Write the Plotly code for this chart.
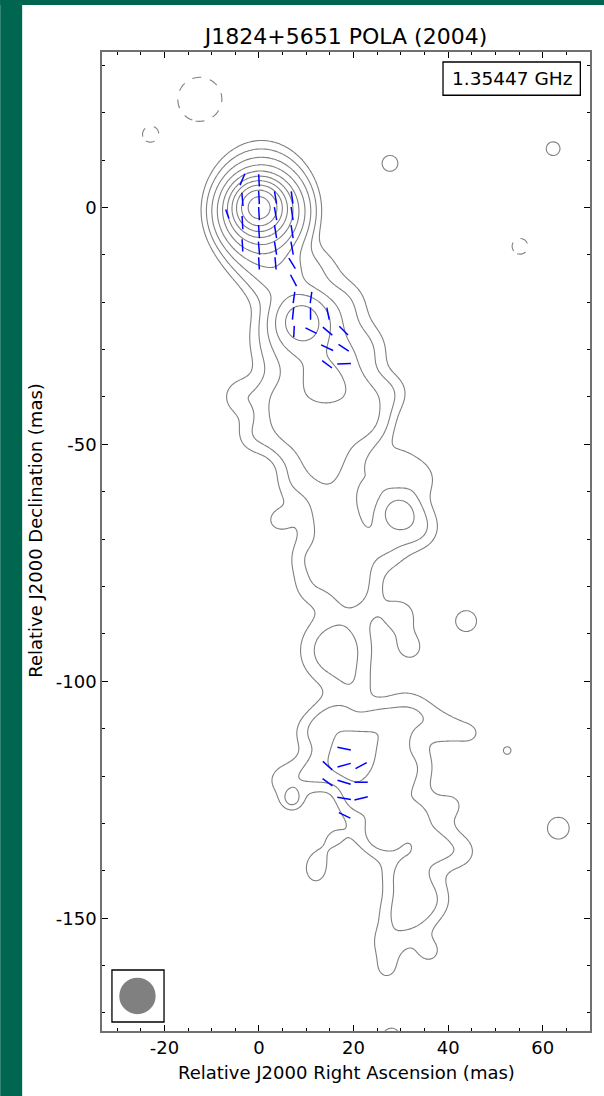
import numpy as np
import plotly.graph_objects as go

# ---------------- data ----------------
title_text = "J1824+5651 POLA (2004)"
freq_label = "1.35447 GHz"
x_ticks = [-20, 0, 20, 40, 60]
x_ticklabels = ["-20", "0", "20", "40", "60"]
y_ticks = [0, -50, -100, -150]
y_ticklabels = ["0", "-50", "-100", "-150"]

# Gaussian model components of the total-intensity map
# (position in mas, amplitude in units of the lowest contour, sigma_x / sigma_y in mas)
core_x = [0, 0.5, 0.5, 0, 4.5, 13]
core_y = [0, -1, 0, -9, -14, -13]
core_amp = [700, 100, 13, 3.5, 4.5, 1.1]
core_sx = [2.3, 3.8, 5.2, 3.8, 4.2, 3.5]
core_sy = [2.3, 3.8, 6.2, 3.8, 4.2, 3.5]

upper_x = [9, 10, 14, 4, 6, 22, 23, 6, 12, 19, 14, -4, -1, 18, 22, 28, 30, 25]
upper_y = [-24, -28, -38, -40, -44, -40, -45, -49, -51, -49, -54, -40, -48, -20, -30, -39, -53, -57]
upper_amp = [20, 7, 8.6, 2.2, 3.5, 3.0, 3.0, 1.9, 3.3, 2.6, 1.3, 1.5, 1.5, 1.3, 1.7, 1.2, 0.9, 1.3]
upper_sx = [3.2, 6, 4.5, 3.5, 3.5, 3.8, 3.3, 3.5, 4, 3.8, 3.5, 3, 3, 3.6, 3.8, 3, 3.2, 3]
upper_sy = upper_sx

mid_x = [15, 16, 18, 20, 7, 4, 10, 11, 27, 34, 34, 29.5, 30, 30, 32, 16.2, 20]
mid_y = [-58, -66, -74, -81, -58, -66, -74, -80, -72, -68, -57, -64.5, -65, -86, -93, -93.5, -101]
mid_amp = [2.3, 2.3, 2.3, 2.0, 1.1, 1.1, 1.2, 1.2, 1.3, 1.3, 1.2, 4.0, 2.0, 1.3, 1.2, 3.0, 1.0]
mid_sx = [4.5, 4.5, 4.5, 4, 3, 2.8, 3, 3.2, 3.5, 3, 3, 2.4, 4.5, 3.2, 2.8, 5, 3]
mid_sy = mid_sx

lower_x = [20, 16, 25, 14, 21, 26, 11, 10, 31, 35, 40, 45, 33, 33, 37, 31, 31, 36, 27,
           41, 43, 36, 27, 20, 16, 7, 5, 28, 29]
lower_y = [-116, -109, -110, -118, -124, -132, -111, -120, -106, -108, -110, -111, -118, -128, -135,
           -141, -149, -146, -155, -126, -136, -157, -161, -147, -133, -125, -121, -121, -113]
lower_amp = [7, 2.8, 2.8, 2.0, 2.8, 3.0, 1.3, 1.2, 1.4, 1.0, 1.1, 0.9, 1.5, 2.0, 2.2, 2.2, 2.4, 1.8, 1.2,
             1.0, 1.1, 1.15, 1.0, 0.9, 1.0, 2.0, 1.2, 2.2, 1.2]
lower_sx = [3.2, 3.5, 3.5, 3, 3.2, 3.4, 3, 3, 3.5, 3, 3, 2.5, 3.5, 3.5, 3.5, 3.5, 3.5, 3.5, 3,
            3, 3, 2.8, 2.8, 2.8, 3, 1.6, 3.2, 3.2, 3.2]
lower_sy = lower_sx

island_x = [12, 27.7, 62.2, 43.8, 52.5, 63.3, 28, -12.5, -23, 55.2]
island_y = [-139.5, 9.3, 12.4, -87.3, -114.6, -131, -175, 22.8, 15.4, -8.2]
island_amp = [1.35, 1.25, 1.22, 1.31, 1.15, 1.34, 1.4, -1.8, -1.25, -1.3]
island_sx = [2.5, 2.5, 2.3, 3, 1.5, 3, 2.2, 4.3, 2.4, 2.3]
island_sy = [3.3, 2.5, 2.3, 3, 1.5, 3, 2.2, 4.3, 2.4, 2.3]

# contour levels (multiples of the lowest contour)
pos_levels = [1, 2, 4, 8, 16, 32, 64, 128, 256, 512, 1024]
neg_levels = [-1]

# polarization vectors: position (mas), tilt (deg from vertical), length (mas)
pol_x = [-3.5, -3.5, -3.5, -3.5,
         0, 0, 0, 0, 0, 0,
         3.5, 3.5, 3.5, 3.5, 3.5,
         7, 7, 7, 7, 7, -6.7,
         7.3, 7.4, 7.2, 7.4, 11, 10.9, 14.6, 11, 14.5, 17.9, 14.4, 17.9, 14.4, 18,
         18, 14.5, 18, 21.6, 14.5, 18, 21.6, 18, 21.6, 18.1]
pol_y = [5.9, 1.7, -3.2, -8.0,
         5.7, 2.1, -1.3, -5.1, -8.6, -11.8,
         2.1, -1.3, -5.1, -8.6, -11.8,
         2.1, -1.3, -5.1, -8.6, -11.8, -1.4,
         -15.4, -19, -22.4, -26.2, -19, -22.4, -22.4, -26, -26.1, -26, -29.6, -29.6, -33.1, -33,
         -114.2, -117.8, -117.7, -117.8, -121.3, -121.3, -121.3, -124.7, -124.7, -128.3]
pol_ang = [23, -5, -3, -3,
           -3, -3, -3, -4, -5, -3,
           -10, -10, -9, -9, -5,
           -8, -8, -9, -10, -32, -20,
           -28, 8, 6, 3, 8, 0, -11, -64, -50, -45, -65, -57, -53, 88,
           -79, -48, 75, 62, -54, -73, 90, -81, 76, -64]
pol_len = [2.6, 2.8, 2.8, 2.6,
           2.6, 2.8, 2.8, 2.8, 2.8, 2.6,
           2.6, 2.8, 2.8, 2.8, 2.6,
           2.6, 2.8, 2.8, 2.8, 2.6, 2.0,
           2.7, 2.4, 2.6, 2.4, 2.4, 2.6, 2.6, 2.6, 2.6, 2.6, 2.8, 2.6, 2.6, 2.9,
           2.9, 2.7, 2.9, 2.7, 2.6, 2.9, 2.8, 2.9, 2.9, 2.7]

beam_center = (-25.7, -166.4)
beam_major = 7.7
beam_minor = 7.7

x_range = [-33.2, 70.0]
y_range = [-173.8, 32.8]

# ---------------- model image ----------------
comp_x = core_x + upper_x + mid_x + lower_x + island_x
comp_y = core_y + upper_y + mid_y + lower_y + island_y
comp_amp = core_amp + upper_amp + mid_amp + lower_amp + island_amp
comp_sx = core_sx + upper_sx + mid_sx + lower_sx + island_sx
comp_sy = core_sy + upper_sy + mid_sy + lower_sy + island_sy

xs = np.arange(-34.0, 71.01, 0.35)
ys = np.arange(-176.0, 34.01, 0.35)
XX, YY = np.meshgrid(xs, ys)
F = np.zeros_like(XX)
for cx, cy, a, sx, sy in zip(comp_x, comp_y, comp_amp, comp_sx, comp_sy):
    F += a * np.exp(-((XX - cx) ** 2 / (2 * sx * sx) + (YY - cy) ** 2 / (2 * sy * sy)))

Zpos = np.round(np.log2(np.clip(F, 2.0 ** -6, None)), 3)
Zneg = np.round(F, 3)

fig = go.Figure()
fig.add_trace(go.Contour(
    x=xs, y=ys, z=Zpos, showscale=False, hoverinfo="skip",
    autocontour=False,
    contours=dict(start=np.log2(pos_levels[0]), end=np.log2(pos_levels[-1]), size=1, coloring="none"),
    line=dict(color="#808080", width=1.1, smoothing=1.0),
))
fig.add_trace(go.Contour(
    x=xs, y=ys, z=Zneg, showscale=False, hoverinfo="skip",
    autocontour=False,
    contours=dict(start=neg_levels[0], end=neg_levels[0], size=1, coloring="none"),
    line=dict(color="#808080", width=1.1, dash="dash", smoothing=1.0),
))

# polarization vectors
vx, vy = [], []
for x0, y0, a, L in zip(pol_x, pol_y, pol_ang, pol_len):
    t = np.deg2rad(a)
    dx, dy = 0.5 * L * np.sin(t), 0.5 * L * np.cos(t)
    vx += [x0 - dx, x0 + dx, None]
    vy += [y0 - dy, y0 + dy, None]
fig.add_trace(go.Scatter(x=vx, y=vy, mode="lines", line=dict(color="#0000ff", width=1.5),
                         hoverinfo="skip", showlegend=False))

# beam
fig.add_shape(type="circle", xref="x", yref="y",
              x0=beam_center[0] - beam_minor / 2, x1=beam_center[0] + beam_minor / 2,
              y0=beam_center[1] - beam_major / 2, y1=beam_center[1] + beam_major / 2,
              fillcolor="#808080", line=dict(width=0))
fig.add_shape(type="rect", xref="paper", yref="paper", x0=0.0204, x1=0.1271, y0=0.0092, y1=0.0623,
              line=dict(color="black", width=1.3), fillcolor="rgba(0,0,0,0)")

# frequency box
fig.add_shape(type="rect", xref="paper", yref="paper", x0=0.6988, x1=0.9802, y0=0.9558, y1=0.9898,
              line=dict(color="black", width=1.3), fillcolor="white")
fig.add_annotation(xref="paper", yref="paper", x=0.8395, y=0.9728, text=freq_label, showarrow=False,
                   font=dict(family="DejaVu Sans", size=18.5, color="black"), xanchor="center", yanchor="middle")

# green page decoration
fig.add_shape(type="rect", xref="paper", yref="paper", x0=-0.2086, x1=-0.1636, y0=-0.07, y1=1.06,
              fillcolor="#00664f", line=dict(width=0), layer="above")
fig.add_shape(type="rect", xref="paper", yref="paper", x0=-0.2086, x1=1.03, y0=1.048, y1=1.06,
              fillcolor="#00664f", line=dict(width=0), layer="above")

# axis titles
fig.add_annotation(xref="paper", yref="paper", x=0.5, y=-0.0429, text="Relative J2000 Right Ascension (mas)",
                   showarrow=False, font=dict(family="DejaVu Sans", size=18, color="black"),
                   xanchor="center", yanchor="middle")
fig.add_annotation(xref="paper", yref="paper", x=-0.136, y=0.5116, text="Relative J2000 Declination (mas)",
                   showarrow=False, textangle=-90, font=dict(family="DejaVu Sans", size=18, color="black"),
                   xanchor="center", yanchor="middle")

axis_common = dict(showgrid=False, zeroline=False, showline=True, linecolor="#707070", linewidth=1.5,
                   mirror="ticks", ticks="inside", ticklen=6, tickwidth=1.2, tickcolor="black",
                   tickfont=dict(family="DejaVu Sans", size=18, color="black"))
fig.update_xaxes(range=x_range, tickmode="array", tickvals=x_ticks, ticktext=x_ticklabels,
                 minor=dict(dtick=5, tick0=0, ticks="inside", ticklen=3, tickcolor="black", tickwidth=1),
                 **axis_common)
fig.update_yaxes(range=y_range, tickmode="array", tickvals=y_ticks, ticktext=y_ticklabels,
                 minor=dict(dtick=10, tick0=0, ticks="inside", ticklen=3, tickcolor="black", tickwidth=1),
                 **axis_common)

fig.update_layout(
    width=604, height=1096,
    margin=dict(l=102, r=12, t=52, b=65),
    paper_bgcolor="white", plot_bgcolor="white",
    showlegend=False,
    title=dict(text=title_text, x=0.5, xref="paper", y=1 - 36 / 1096, yref="container",
               xanchor="center", yanchor="middle",
               font=dict(family="DejaVu Sans", size=22, color="black")),
)

fig.write_html("out.html", config={"displayModeBar": False},
               post_script="document.body.style.margin='0';document.body.style.overflow='hidden';")
